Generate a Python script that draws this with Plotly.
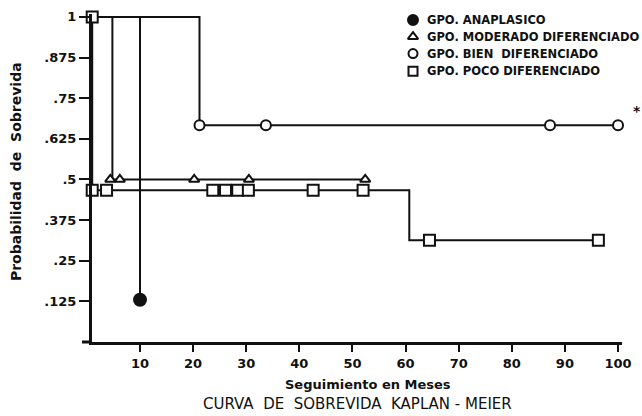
import plotly.graph_objects as go

# ---- data ----
# Grupo anaplasico
ana_step_x = [1, 10]
ana_step_y = [1, 0.13]
ana_mark_x = [10]
ana_mark_y = [0.13]

# Grupo moderado diferenciado
mod_step_x = [1, 4.8, 52.4]
mod_step_y = [1, 0.5, 0.5]
mod_mark_x = [4.4, 6.2, 20.2, 30.5, 52.4]
mod_mark_y = [0.5, 0.5, 0.5, 0.5, 0.5]

# Grupo bien diferenciado
bien_step_x = [1, 21.2, 100]
bien_step_y = [1, 0.667, 0.667]
bien_mark_x = [21.2, 33.7, 87.2, 100]
bien_mark_y = [0.667, 0.667, 0.667, 0.667]

# Grupo poco diferenciado
poco_step_x = [1, 1, 60.7, 96.3]
poco_step_y = [1, 0.467, 0.313, 0.313]
poco_mark_x = [1, 1, 3.7, 23.7, 26.1, 28.4, 30.4, 42.6, 52.0, 64.5, 96.3]
poco_mark_y = [1, 0.467, 0.467, 0.467, 0.467, 0.467, 0.467, 0.467, 0.467, 0.313, 0.313]

y_tickvals = [0.125, 0.25, 0.375, 0.5, 0.625, 0.75, 0.875, 1]
y_ticktext = [".125", ".25", ".375", ".5", ".625", ".75", ".875", "1"]
x_tickvals = [10, 20, 30, 40, 50, 60, 70, 80, 90, 100]

legend_names = ["GPO. ANAPLASICO", "GPO. MODERADO DIFERENCIADO",
                "GPO. BIEN  DIFERENCIADO", "GPO. POCO DIFERENCIADO"]
legend_symbols = ["circle", "triangle-up", "circle", "square"]
legend_fill = [True, False, False, False]

# ---- layout geometry ----
W, H = 642, 416
ML, MR, MT, MB = 92, 20, 10, 74
PW, PH = W - ML - MR, H - MT - MB

def px(xp):
    return (xp - ML) / PW

def py(yp):
    return (H - MB - yp) / PH

FONT = "DejaVu Sans"
BLACK = "#111111"

fig = go.Figure()

line_style = dict(color=BLACK, width=2)

def add_group(sx, sy, mx, my, symbol, size, filled):
    fig.add_trace(go.Scatter(x=sx, y=sy, mode="lines", line=line_style,
                             line_shape="hv", showlegend=False, hoverinfo="skip",
                             cliponaxis=False))
    fig.add_trace(go.Scatter(x=mx, y=my, mode="markers", showlegend=False,
                             cliponaxis=False,
                             marker=dict(symbol=symbol, size=size,
                                         color=BLACK if filled else "white",
                                         line=dict(color=BLACK, width=2))))

add_group(bien_step_x, bien_step_y, bien_mark_x, bien_mark_y, "circle", 10, False)
add_group(mod_step_x, mod_step_y, mod_mark_x, mod_mark_y, "triangle-up", 9, False)
add_group(ana_step_x, ana_step_y, ana_mark_x, ana_mark_y, "circle", 12, True)
add_group(poco_step_x, poco_step_y, poco_mark_x, poco_mark_y, "square", 11, False)

# legend drawn on an overlay pixel-space axis
leg_y = [16, 33, 50, 68]
for name, sym, fill, yy in zip(legend_names, legend_symbols, legend_fill, leg_y):
    fig.add_trace(go.Scatter(x=[413], y=[yy], xaxis="x2", yaxis="y2", mode="markers",
                             showlegend=False, hoverinfo="skip", cliponaxis=False,
                             marker=dict(symbol=sym, size=10 if fill else 9,
                                         color=BLACK if fill else "white",
                                         line=dict(color=BLACK, width=2))))
    fig.add_annotation(x=425, y=yy, xref="x2", yref="y2", text=name, showarrow=False,
                       xanchor="left", yanchor="middle",
                       font=dict(family=FONT, size=11.5, color=BLACK, weight="bold"))

# asterisk
fig.add_annotation(x=px(637), y=py(108), xref="paper", yref="paper", text="*",
                   showarrow=False, xanchor="center", yanchor="middle",
                   font=dict(family=FONT, size=14, color=BLACK, weight="bold"))

# titles
fig.add_annotation(x=px(368), y=py(385), xref="paper", yref="paper",
                   text="Seguimiento en Meses", showarrow=False,
                   xanchor="center", yanchor="middle",
                   font=dict(family=FONT, size=13, color=BLACK, weight="bold"))
fig.add_annotation(x=px(357), y=py(405), xref="paper", yref="paper",
                   text="CURVA  DE  SOBREVIDA  KAPLAN - MEIER", showarrow=False,
                   xanchor="center", yanchor="middle",
                   font=dict(family=FONT, size=15, color=BLACK))
fig.add_annotation(x=px(16), y=py(170), xref="paper", yref="paper",
                   text="Probabilidad  de  Sobrevida", showarrow=False, textangle=-90,
                   xanchor="center", yanchor="middle",
                   font=dict(family=FONT, size=14, color=BLACK, weight="bold"))

# x-axis extension left of the y axis
fig.add_shape(type="line", xref="paper", yref="paper", x0=px(82), x1=0, y0=0, y1=0,
              line=dict(color=BLACK, width=3))

tickfont = dict(family=FONT, size=13, color=BLACK, weight="bold")
fig.update_layout(
    width=W, height=H,
    margin=dict(l=ML, r=MR, t=MT, b=MB),
    paper_bgcolor="white", plot_bgcolor="white",
    showlegend=False,
    xaxis=dict(range=[0.96, 100.75], tickvals=x_tickvals, ticks="outside", ticklen=7,
               tickwidth=2, tickcolor=BLACK, showline=True, linecolor=BLACK, linewidth=3,
               showgrid=False, zeroline=False, tickfont=tickfont),
    yaxis=dict(range=[0, 1.009], tickvals=y_tickvals, ticktext=y_ticktext, ticks="outside",
               ticklen=10, tickwidth=2, tickcolor=BLACK, showline=True, linecolor=BLACK,
               linewidth=3, showgrid=False, zeroline=False, tickfont=tickfont),
    xaxis2=dict(range=[ML, W - MR], overlaying="x", visible=False, anchor="y2"),
    yaxis2=dict(range=[H - MB, MT], overlaying="y", visible=False, anchor="x2"),
)

fig.write_html("out.html")
